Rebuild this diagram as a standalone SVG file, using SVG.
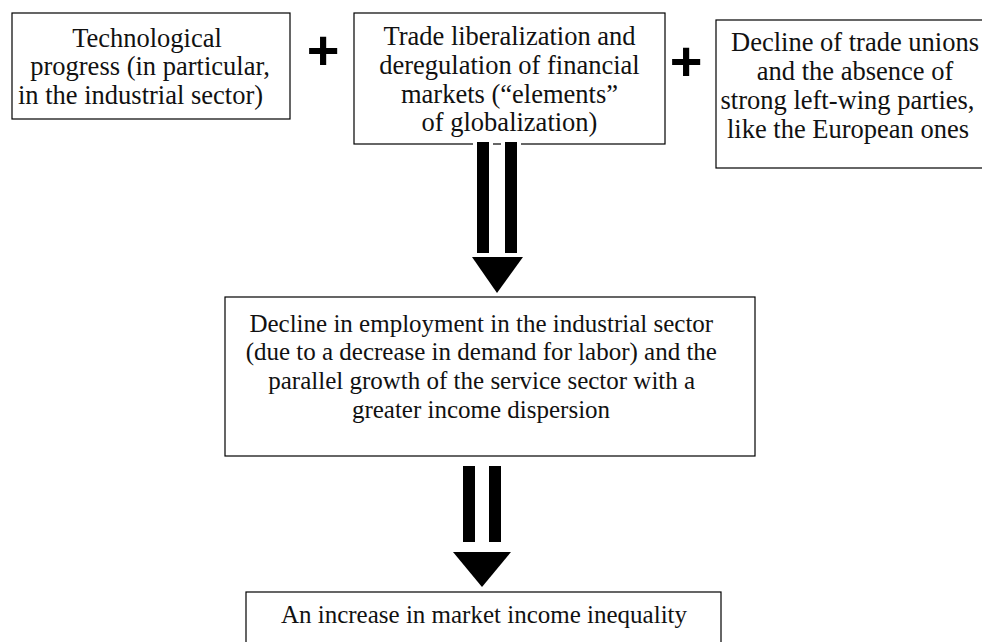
<svg xmlns="http://www.w3.org/2000/svg" width="982" height="642" viewBox="0 0 982 642">
  <style>
    .box { fill: #ffffff; stroke: #000000; stroke-width: 1.2; }
    .t { font-family: 'Liberation Serif', Tinos, 'Times New Roman', Times, 'DejaVu Serif', serif; fill: #111111; text-anchor: middle; }
    .top { font-size: 26.5px; }
    .low { font-size: 25px; }
    .plus { font-family: 'Liberation Sans', Arial, sans-serif; font-weight: bold; font-size: 56px; text-anchor: middle; fill: #000000; }
    .bar { fill: #000000; }
    .halo { fill: #000000; stroke: #ffffff; stroke-width: 8; paint-order: stroke; }
  </style>

  <!-- top row of causes -->
  <g id="node-technology">
    <rect class="box" x="12" y="13" width="278" height="106"/>
    <text class="t top" font-family="Liberation Serif, serif" x="147" y="46.5">Technological</text>
    <text class="t top" font-family="Liberation Serif, serif" x="150" y="75.3">progress (in particular,</text>
    <text class="t top" font-family="Liberation Serif, serif" x="140.5" y="104">in the industrial sector)</text>
  </g>

  <g id="plus-1">
    <text class="plus" x="323" y="68.5">+</text>
  </g>

  <g id="node-globalization">
    <rect class="box" x="354" y="13" width="311" height="131"/>
    <text class="t top" x="509.5" y="44.7">Trade liberalization and</text>
    <text class="t top" x="509.5" y="74">deregulation of financial</text>
    <text class="t top" x="509.5" y="102.5">markets (“elements”</text>
    <text class="t top" x="509.5" y="131">of globalization)</text>
  </g>

  <g id="plus-2">
    <text class="plus" x="686" y="79.7">+</text>
  </g>

  <g id="node-unions">
    <rect class="box" x="716" y="20" width="290" height="148"/>
    <text class="t top" x="855" y="50.7">Decline of trade unions</text>
    <text class="t top" x="855" y="80.3">and the absence of</text>
    <text class="t top" x="847.5" y="109.3">strong left-wing parties,</text>
    <text class="t top" x="848" y="138.3">like the European ones</text>
  </g>

  <!-- intermediate effect -->
  <g id="node-employment">
    <rect class="box" x="225" y="297" width="530" height="159"/>
    <text class="t low" x="481.3" y="331.7">Decline in employment in the industrial sector</text>
    <text class="t low" x="481.3" y="360.3">(due to a decrease in demand for labor) and the</text>
    <text class="t low" x="481.7" y="389.3">parallel growth of the service sector with a</text>
    <text class="t low" x="481" y="418.3">greater income dispersion</text>
  </g>

  <!-- final outcome -->
  <g id="node-inequality">
    <rect class="box" x="246" y="592" width="475" height="70"/>
    <text class="t low" x="484" y="623.3">An increase in market income inequality</text>
  </g>

  <!-- double-shafted block arrows -->
  <g id="connectors">
    <g id="arrow-1">
      <rect class="halo" x="477" y="142" width="12" height="111"/>
      <rect class="halo" x="505" y="142" width="12" height="111"/>
      <polygon class="bar" points="472,257 523,257 497,293"/>
    </g>
    <g id="arrow-2">
      <rect class="bar" x="463" y="466" width="12" height="76"/>
      <rect class="bar" x="489" y="466" width="12" height="76"/>
      <polygon class="bar" points="453,552 511,552 482,587"/>
    </g>
  </g>
</svg>
